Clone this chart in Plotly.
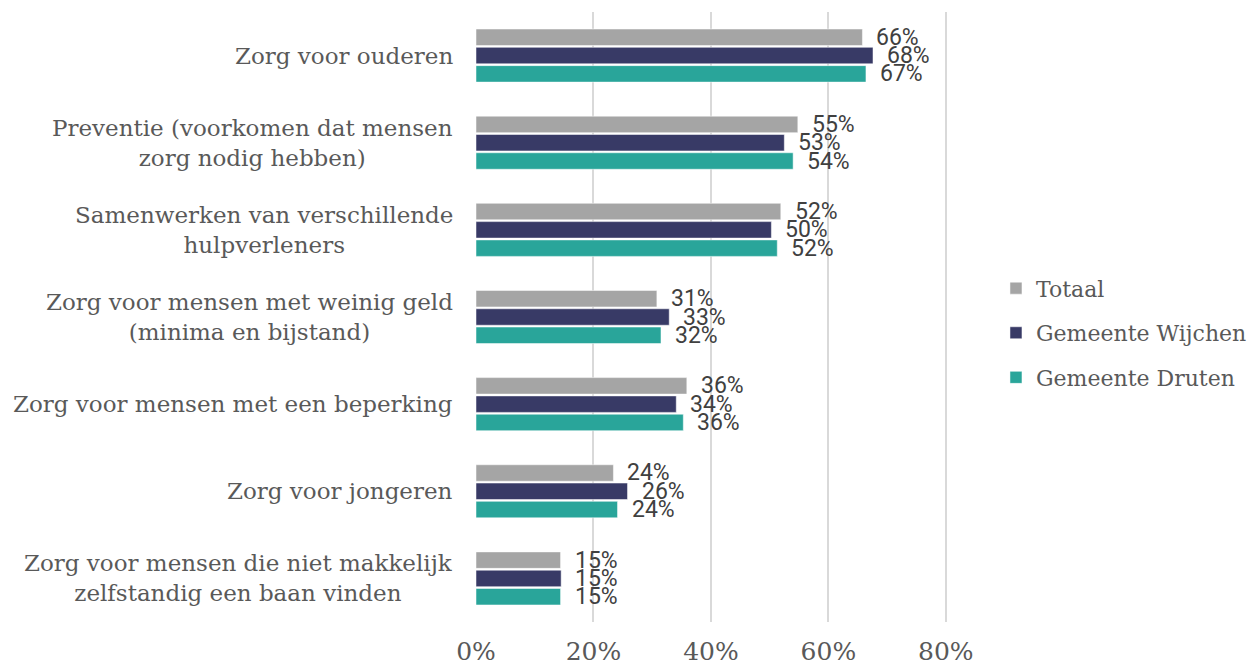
import plotly.graph_objects as go

categories = [
    "Zorg voor ouderen",
    "Preventie (voorkomen dat mensen<br>zorg nodig hebben)",
    "Samenwerken van verschillende<br>hulpverleners",
    "Zorg voor mensen met weinig geld<br>(minima en bijstand)",
    "Zorg voor mensen met een beperking",
    "Zorg voor jongeren",
    "Zorg voor mensen die niet makkelijk<br>zelfstandig een baan vinden",
]
series_names = ["Totaal", "Gemeente Wijchen", "Gemeente Druten"]
totaal = [65.8, 54.8, 51.9, 30.8, 35.9, 23.4, 14.4]
wijchen = [67.6, 52.5, 50.3, 32.9, 34.1, 25.8, 14.5]
druten = [66.4, 54.0, 51.3, 31.5, 35.3, 24.1, 14.4]
totaal_labels = ["66%", "55%", "52%", "31%", "36%", "24%", "15%"]
wijchen_labels = ["68%", "53%", "50%", "33%", "34%", "26%", "15%"]
druten_labels = ["67%", "54%", "52%", "32%", "36%", "24%", "15%"]
colors = ["#a5a5a5", "#383a66", "#29a59a"]
x_ticks = [0, 20, 40, 60, 80]
x_ticklabels = ["0%", "20%", "40%", "60%", "80%"]

serif = "DejaVu Serif"
fig = go.Figure()
all_vals = [totaal, wijchen, druten]
all_labels = [totaal_labels, wijchen_labels, druten_labels]
ids = list(range(len(categories)))
for i, (name, vals, labs, col) in enumerate(zip(series_names, all_vals, all_labels, colors)):
    fig.add_trace(go.Bar(
        y=ids, x=vals, name=name, orientation="h",
        marker=dict(color=col, line=dict(color="white", width=0.5)),
        legendgroup=name,
        text=labs, textposition="none", hoverinfo="x+name",
    ))

# data labels as annotations
offsets = [-18.3, 0, 18.3]
for vals, labs, off in zip(all_vals, all_labels, offsets):
    for k, (v, l) in enumerate(zip(vals, labs)):
        fig.add_annotation(x=v, y=k, xref="x", yref="y", text=l, showarrow=False,
                           xanchor="left", yanchor="middle", xshift=12, yshift=-off,
                           font=dict(family="Roboto", size=23, color="#404040"))

for k, c in enumerate(categories):
    fig.add_annotation(x=0, y=k, xref="paper", yref="y", text=c, showarrow=False,
                       xanchor="right", yanchor="middle", xshift=-21, align="center",
                       font=dict(family=serif, size=23, color="#595959"))

# page body has an 8px margin, so the figure is shifted by 8px
fig.update_layout(
    width=1251, height=658,
    margin=dict(l=468, r=312, t=4, b=44, autoexpand=False),
    paper_bgcolor="white", plot_bgcolor="white",
    barmode="group", bargap=0.37, bargroupgap=0.1,
    showlegend=True,
    legend=dict(x=1.104, y=0.474, xanchor="left", yanchor="middle",
                font=dict(family=serif, size=22, color="#595959"),
                tracegroupgap=13, traceorder="grouped"),
    xaxis=dict(range=[0, 80.2], tickvals=x_ticks, ticktext=x_ticklabels,
               showgrid=True, gridcolor="#d9d9d9", gridwidth=2, zeroline=False,
               showline=False, ticks="", ticklabelstandoff=12, automargin=False,
               tickfont=dict(family=serif, size=25, color="#595959")),
    yaxis=dict(tickvals=ids, showticklabels=False, automargin=False,
               range=[6.5, -0.5], showgrid=False, zeroline=False, showline=False, ticks=""),
)
fig.write_html("out.html")
